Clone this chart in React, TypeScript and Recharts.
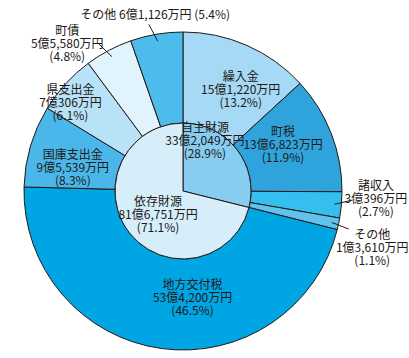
import { PieChart, Pie, Cell } from "recharts";

// 歳入の内訳（単位：万円）
const outerNames = ["繰入金", "町税", "諸収入", "その他", "地方交付税", "国庫支出金", "県支出金", "町債", "その他"];
const outerAmounts = [151220, 136823, 30396, 13610, 534200, 95539, 70306, 55580, 61126];
const outerPercents = ["13.2", "11.9", "2.7", "1.1", "46.5", "8.3", "6.1", "4.8", "5.4"];

const innerNames = ["自主財源", "依存財源"];
const innerAmounts = [332049, 816751];
const innerPercents = ["28.9", "71.1"];

const OUTER_COLORS = ["#a6d9f5", "#2ea3dc", "#35bff0", "#5fc3ee", "#00a5e3", "#49b7e9", "#b8e2f7", "#e1f3fc", "#4cbcec"];
const INNER_COLORS = ["#86cdf1", "#d5eefa"];

const CX = 183;
const CY = 191;
const R_OUT = 159;
const R_IN = 68;
const RADIAN = Math.PI / 180;
const TEXT = "#231815";
const FONT = "'Noto Sans CJK JP', 'Noto Sans', sans-serif";

// label placement: distance from centre, clockwise shift from slice middle (deg),
// leader line end shift (deg) when the label sits outside the ring
type Place = { r: number; shift: number; line?: number; oneLine?: boolean };
const OUTER_PLACE: Place[] = [
  { r: 118, shift: 5.6 },
  { r: 111, shift: -4.5 },
  { r: 193, shift: -3.2, line: -2 },
  { r: 197, shift: 4.2, line: 1 },
  { r: 105, shift: -13 },
  { r: 113, shift: -3.6 },
  { r: 144, shift: -3.8 },
  { r: 189, shift: -9.9, line: -2 },
  { r: 180, shift: 0.7, line: -2, oneLine: true },
];
const INNER_PLACE: Place[] = [
  { r: 56, shift: -29 },
  { r: 33, shift: -3 },
];

const fmt = (v: number) => {
  const oku = Math.floor(v / 10000);
  const man = v % 10000;
  return `${oku}億${man.toLocaleString("en-US")}万円`;
};

const polar = (cx: number, cy: number, r: number, angle: number) => ({
  x: cx + r * Math.cos(-angle * RADIAN),
  y: cy + r * Math.sin(-angle * RADIAN),
});

const makeLabel =
  (names: string[], amounts: number[], percents: string[], places: Place[]) =>
  (props: any) => {
    const { midAngle, index } = props;
    const cx = typeof props.cx === "number" ? props.cx : CX;
    const cy = typeof props.cy === "number" ? props.cy : CY;
    const p = places[index];
    const pos = polar(cx, cy, p.r, midAngle - p.shift);
    const lines = p.oneLine
      ? [`${names[index]} ${fmt(amounts[index])} (${percents[index]}%)`]
      : [names[index], fmt(amounts[index]), `(${percents[index]}%)`];
    const start = lines.length === 1 ? 0 : -13;
    let leader = null;
    if (p.line !== undefined) {
      const a = polar(cx, cy, 152, midAngle);
      const b = polar(cx, cy, 170, midAngle - p.line);
      leader = <line x1={a.x} y1={a.y} x2={b.x} y2={b.y} stroke={TEXT} strokeWidth={1} />;
    }
    return (
      <g key={`lbl-${index}`}>
        {leader}
        <text
          x={pos.x}
          y={pos.y}
          fill={TEXT}
          fontSize={12}
          fontFamily={FONT}
          textAnchor="middle"
          dominantBaseline="central"
        >
          {lines.map((t, i) => (
            <tspan key={i} x={pos.x} y={pos.y + start + i * 13}>
              {t}
            </tspan>
          ))}
        </text>
      </g>
    );
  };

const outerData = outerNames.map((name, i) => ({ name, value: outerAmounts[i] }));
const innerData = innerNames.map((name, i) => ({ name, value: innerAmounts[i] }));

export default function App() {
  return (
    <div style={{ position: "absolute", left: 0, top: 0, width: 409, height: 358, background: "#fff" }}>
      <PieChart width={409} height={358} margin={{ top: 0, right: 0, bottom: 0, left: 0 }}>
        <Pie
          data={outerData}
          dataKey="value"
          nameKey="name"
          cx={CX}
          cy={CY}
          innerRadius={R_IN}
          outerRadius={R_OUT}
          startAngle={90}
          endAngle={-270}
          stroke={TEXT}
          strokeWidth={1}
          isAnimationActive={false}
          labelLine={false}
          label={makeLabel(outerNames, outerAmounts, outerPercents, OUTER_PLACE)}
        >
          {outerData.map((_, i) => (
            <Cell key={i} fill={OUTER_COLORS[i]} />
          ))}
        </Pie>
        <Pie
          data={innerData}
          dataKey="value"
          nameKey="name"
          cx={CX}
          cy={CY}
          innerRadius={0}
          outerRadius={R_IN}
          startAngle={90}
          endAngle={-270}
          stroke={TEXT}
          strokeWidth={1}
          isAnimationActive={false}
          labelLine={false}
          label={makeLabel(innerNames, innerAmounts, innerPercents, INNER_PLACE)}
        >
          {innerData.map((_, i) => (
            <Cell key={i} fill={INNER_COLORS[i]} />
          ))}
        </Pie>
      </PieChart>
    </div>
  );
}
